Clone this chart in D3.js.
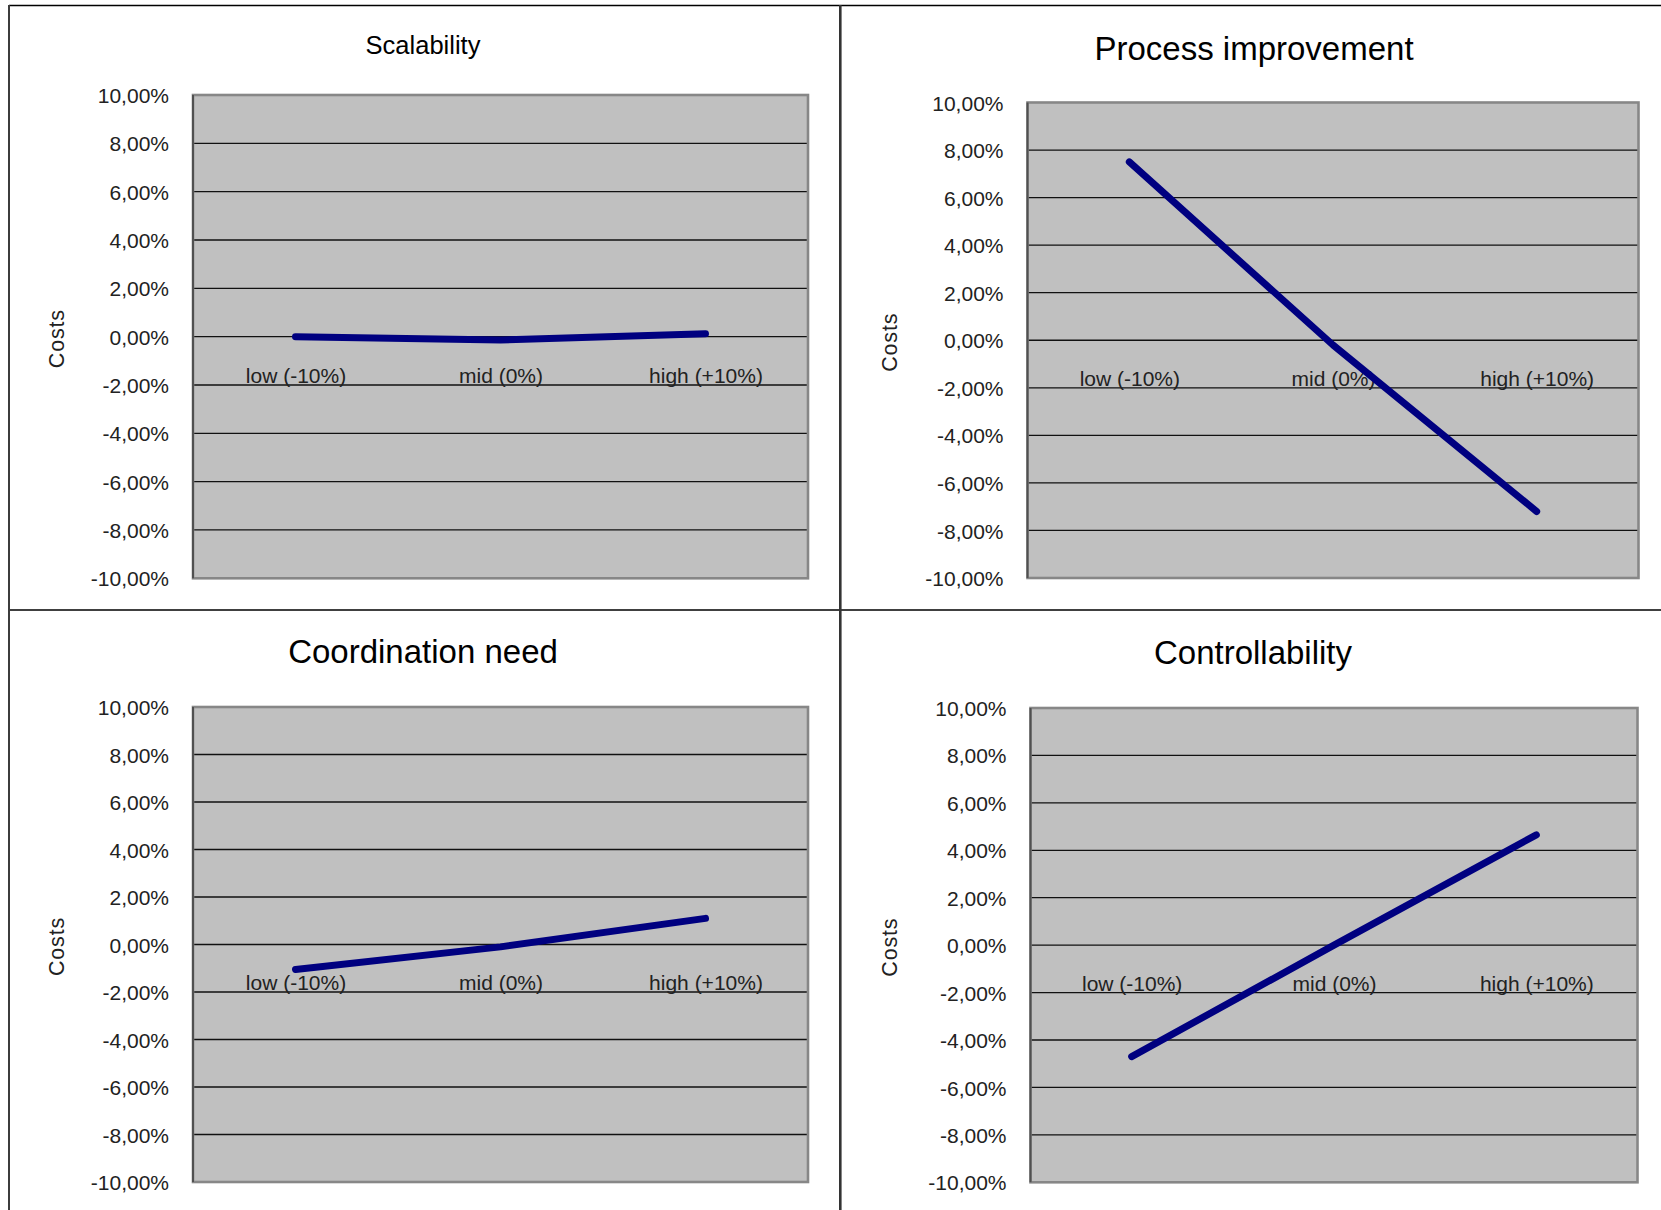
<!DOCTYPE html>
<html>
<head>
<meta charset="utf-8">
<script src="https://cdn.jsdelivr.net/npm/d3@7"></script>
<style>
  html, body { margin: 0; padding: 0; background: #ffffff; }
  svg { display: block; }
  text { font-family: Arial, "Liberation Sans", sans-serif; }
</style>
</head>
<body>
<svg id="chart" width="1661" height="1210"></svg>
<script>
// Sensitivity of costs to each factor, in percent
const categories = ["low (-10%)", "mid (0%)", "high (+10%)"];
const yTicks = [10, 8, 6, 4, 2, 0, -2, -4, -6, -8, -10];
const titles = ["Scalability", "Process improvement", "Coordination need", "Controllability"];
const axisTitle = "Costs";

const scalability        = [0.0, -0.14, 0.12];
const processImprovement = [7.5, -0.2, -7.2];
const coordinationNeed   = [-1.05, -0.1, 1.1];
const controllability    = [-4.7, 0.0, 4.65];

const seriesList = [scalability, processImprovement, coordinationNeed, controllability];

// Panel geometry: plot rectangle [x0, y0, x1, y1], title placement, axis title x
const layout = [
  { plot: [193, 95, 808, 578.3],         titleX: 423,  titleY: 53.5, titleSize: 25.5, costsX: 56 },
  { plot: [1027.5, 102.5, 1638.5, 578],  titleX: 1254, titleY: 59.5, titleSize: 33,   costsX: 889.7 },
  { plot: [193, 707, 808, 1182],         titleX: 423,  titleY: 663,  titleSize: 33,   costsX: 56 },
  { plot: [1030.5, 708, 1637.5, 1182.3], titleX: 1253, titleY: 663.5, titleSize: 33,  costsX: 889.7 }
];

const locale = d3.formatLocale({
  decimal: ",", thousands: ".", grouping: [3], currency: ["", "€"], minus: "-"
});
const fmt = locale.format(".2f");
const pct = d => fmt(d) + "%";

const svg = d3.select("#chart");

// Outer frame and dividers between the four panels
const frame = svg.append("g");
frame.append("line").attr("x1", 9).attr("x2", 1661).attr("y1", 5.5).attr("y2", 5.5)
  .attr("stroke", "#000").attr("stroke-width", 1.6);
frame.append("line").attr("x1", 9).attr("x2", 1661).attr("y1", 610).attr("y2", 610)
  .attr("stroke", "#000").attr("stroke-width", 1.6);
frame.append("line").attr("x1", 9).attr("x2", 9).attr("y1", 5).attr("y2", 1210)
  .attr("stroke", "#3c3c3c").attr("stroke-width", 2);
frame.append("line").attr("x1", 840.3).attr("x2", 840.3).attr("y1", 5).attr("y2", 1210)
  .attr("stroke", "#333").attr("stroke-width", 2.6);

seriesList.forEach((values, i) => {
  const L = layout[i];
  const [x0, y0, x1, y1] = L.plot;
  const g = svg.append("g");

  const x = d3.scalePoint().domain(categories).range([x0, x1]).padding(0.5);
  const y = d3.scaleLinear().domain([-10, 10]).range([y1, y0]);

  // plot background
  g.append("rect")
    .attr("x", x0).attr("y", y0).attr("width", x1 - x0).attr("height", y1 - y0)
    .attr("fill", "#c0c0c0");

  // horizontal gridlines
  g.append("g").selectAll("line")
    .data(yTicks.filter(t => t !== 10 && t !== -10))
    .join("line")
    .attr("x1", x0).attr("x2", x1)
    .attr("y1", d => y(d)).attr("y2", d => y(d))
    .attr("stroke", "#111").attr("stroke-width", 1.3);

  // plot border
  g.append("rect")
    .attr("x", x0).attr("y", y0).attr("width", x1 - x0).attr("height", y1 - y0)
    .attr("fill", "none").attr("stroke", "#878787").attr("stroke-width", 2.6);
  g.append("line")
    .attr("x1", x0).attr("x2", x0).attr("y1", y0).attr("y2", y1)
    .attr("stroke", "#505050").attr("stroke-width", 2);

  // value axis
  const yAxis = d3.axisLeft(y).tickValues(yTicks).tickFormat(pct).tickSize(0).tickPadding(24);
  const ya = g.append("g").attr("transform", `translate(${x0},0)`).call(yAxis);
  ya.select(".domain").remove();
  ya.selectAll("text")
    .attr("font-size", 21).attr("fill", "#222").attr("dy", "0.36em")
    .attr("font-family", "Arial, 'Liberation Sans', sans-serif");

  // category axis crossing at zero
  const xAxis = d3.axisBottom(x).tickSize(0).tickPadding(31);
  const xa = g.append("g").attr("transform", `translate(0,${y(0)})`).call(xAxis);
  xa.select(".domain").remove();
  xa.selectAll("text")
    .attr("font-size", 21).attr("fill", "#222")
    .attr("font-family", "Arial, 'Liberation Sans', sans-serif");

  // axis title
  g.append("text")
    .attr("transform", `translate(${L.costsX},${y(0) + 2}) rotate(-90)`)
    .attr("text-anchor", "middle").attr("dy", "0.35em")
    .attr("font-size", 21.5).attr("letter-spacing", 0.8).attr("fill", "#222")
    .text(axisTitle);

  // chart title
  g.append("text")
    .attr("x", L.titleX).attr("y", L.titleY)
    .attr("text-anchor", "middle")
    .attr("font-size", L.titleSize).attr("fill", "#000")
    .text(titles[i]);

  // series line
  const line = d3.line().x((d, k) => x(categories[k])).y(d => y(d));
  g.append("path")
    .datum(values)
    .attr("d", line)
    .attr("fill", "none")
    .attr("stroke", "#000080")
    .attr("stroke-width", 7)
    .attr("stroke-linecap", "round")
    .attr("stroke-linejoin", "round");
});
</script>
</body>
</html>
